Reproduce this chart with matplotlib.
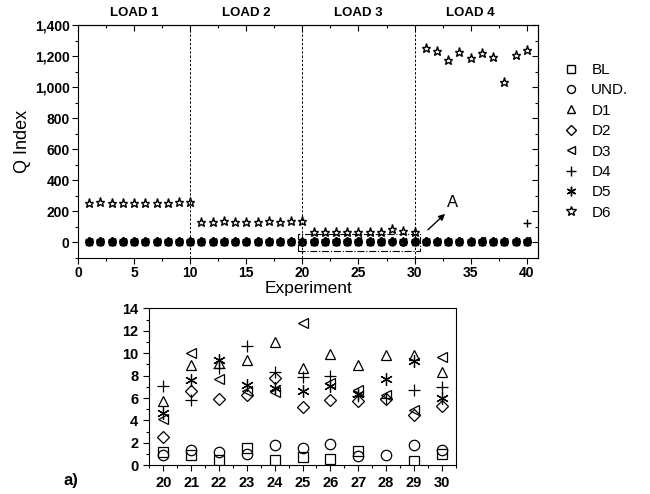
import numpy as np
import matplotlib
matplotlib.use("Agg")
import matplotlib.pyplot as plt
from matplotlib.ticker import MultipleLocator, FuncFormatter
from matplotlib.patches import Rectangle
from matplotlib.transforms import blended_transform_factory

plt.rcParams['font.family'] = ['Liberation Sans', 'DejaVu Sans']

experiment = np.arange(1, 41)

# Q index per experiment (loads of 10 experiments each)
BL = [1.1, 0.8, 1.2, 0.9, 1.0, 0.7, 1.3, 0.9, 1.1, 0.8,
      1.2, 0.6, 1.0, 1.4, 0.9, 0.7, 1.1, 0.8, 1.3, 1.2,
      0.9, 0.5, 1.5, 0.5, 0.7, 0.6, 1.3, np.nan, 0.4, 1.0,
      1.1, 0.9, 1.2, 0.8, 1.0, 1.3, 0.7, 1.1, 0.9, 1.4]
UND = [1.3, 1.5, 1.1, 1.7, 1.2, 1.4, 1.0, 1.6, 1.3, 1.5,
       1.2, 1.8, 1.4, 1.1, 1.6, 1.3, 1.5, 1.2, 1.7, 0.9,
       1.4, 1.2, 1.0, 1.8, 1.5, 1.9, 0.8, 0.9, 1.8, 1.4,
       1.6, 1.3, 1.5, 1.1, 1.7, 1.4, 1.2, 1.6, 1.3, 1.5]
D1 = [8.5, 9.2, 8.8, 9.6, 9.0, 8.7, 9.4, 9.1, 8.9, 9.3,
      9.8, 10.2, 9.5, 9.9, 10.4, 9.6, 10.1, 9.7, 10.3, 5.7,
      8.9, 9.1, 9.4, 11.0, 8.7, 9.9, 8.9, 9.8, 9.8, 8.3,
      10.5, 11.2, 10.8, 11.5, 10.9, 11.3, 10.6, 11.8, 11.1, 12.0]
D2 = [5.8, 6.2, 5.5, 6.0, 6.4, 5.7, 6.1, 5.9, 6.3, 5.6,
      6.0, 5.4, 6.2, 5.8, 6.5, 5.9, 6.1, 5.7, 6.3, 2.5,
      6.6, 5.9, 6.3, 7.8, 5.2, 5.8, 5.7, 5.9, 4.5, 5.3,
      6.8, 7.2, 6.5, 7.0, 6.9, 7.4, 6.6, 7.1, 6.7, 7.5]
D3 = [7.5, 8.1, 7.8, 8.4, 7.2, 7.9, 8.2, 7.6, 8.0, 7.4,
      8.6, 9.0, 8.3, 8.8, 9.2, 8.5, 8.9, 8.2, 9.1, 4.1,
      10.0, 7.7, 6.6, 6.5, 12.7, 7.3, 6.7, 6.3, 4.9, 9.7,
      10.2, 11.0, 9.8, 10.6, 10.4, 11.2, 9.9, 10.8, 10.5, 11.4]
D4 = [6.8, 7.3, 7.0, 7.6, 6.9, 7.4, 7.1, 7.7, 6.7, 7.2,
      7.8, 8.3, 7.5, 8.0, 8.5, 7.9, 8.2, 7.6, 8.4, 7.1,
      5.8, 8.7, 10.6, 8.3, 7.9, 8.0, 6.2, 6.0, 6.7, 7.0,
      9.5, 10.2, 9.8, 10.8, 10.1, 11.0, 9.6, 10.5, 10.3, 125.0]
D5 = [6.5, 7.0, 6.7, 7.2, 6.6, 7.1, 6.8, 7.3, 6.4, 6.9,
      7.4, 7.9, 7.1, 7.6, 8.0, 7.5, 7.8, 7.2, 8.1, 4.7,
      7.6, 9.4, 7.2, 6.9, 6.6, 7.1, 6.4, 7.7, 9.3, 6.0,
      8.8, 9.4, 9.0, 9.9, 9.2, 10.1, 8.7, 9.6, 9.3, 10.4]
D6 = [255, 257, 256, 255, 256, 255, 254, 256, 262, 257,
      133, 132, 137, 131, 133, 132, 134, 133, 135, 134,
      66, 67, 65, 68, 67, 66, 69, 84, 74, 67,
      1252, 1236, 1176, 1230, 1187, 1223, 1196, 1037, 1209, 1241]

series = [("BL", BL, "s", 4.5), ("UND.", UND, "o", 5), ("D1", D1, "^", 5),
          ("D2", D2, "D", 4), ("D3", D3, "<", 5), ("D4", D4, "+", 6),
          ("D5", D5, (6, 2, 0), 6), ("D6", D6, "*", 6.5)]

loads = ["LOAD 1", "LOAD 2", "LOAD 3", "LOAD 4"]
load_bounds = [10, 20, 30]

zoom_lo, zoom_hi = 20, 30

fig = plt.figure(figsize=(6.5, 4.94), dpi=100)
ax = fig.add_axes([0.12, 0.4783, 0.7077, 0.4705])

for name, vals, mk, ms in series:
    ax.plot(experiment, vals, linestyle="none", marker=mk, markersize=ms,
            markerfacecolor="none", markeredgecolor="black",
            markeredgewidth=1.0, color="black", label=name)

for b in load_bounds:
    ax.axvline(b, color="black", linestyle=(0, (2.5, 1.8)), linewidth=0.7)

trans = blended_transform_factory(ax.transData, ax.transAxes)
for i, lbl in enumerate(loads):
    ax.text(5 + 10 * i, 1.052, lbl, transform=trans, ha="center",
            va="center", fontsize=9.5, fontweight="bold")

# dash-dot box marking the zoomed region
ax.add_patch(Rectangle((19.6, -58), 10.9, 113, fill=False,
                       linestyle="-.", linewidth=0.8, edgecolor="black"))
ax.annotate("", xy=(32.9, 195), xytext=(31.0, 68),
            arrowprops=dict(arrowstyle="-|>", color="black", lw=1,
                            mutation_scale=9))
ax.text(33.4, 255, "A", ha="center", va="center", fontsize=12)

ax.set_xlim(0, 41)
ax.set_ylim(-100, 1400)
ax.xaxis.set_major_locator(MultipleLocator(5))
ax.xaxis.set_minor_locator(MultipleLocator(2.5))
ax.yaxis.set_major_locator(MultipleLocator(200))
ax.yaxis.set_minor_locator(MultipleLocator(100))
ax.yaxis.set_major_formatter(FuncFormatter(lambda v, p: f"{v:,.0f}"))
ax.tick_params(which="major", direction="out", length=4, width=0.8,
               labelsize=10, pad=2)
ax.tick_params(which="minor", direction="out", length=2.5, width=0.8)
for lab in ax.get_xticklabels() + ax.get_yticklabels():
    lab.set_fontweight("bold")
ax.set_xlabel("Experiment", fontsize=12.5, labelpad=1)
ax.set_ylabel("Q Index", fontsize=13, labelpad=3)

# inward ticks on top and right
top = ax.secondary_xaxis("top")
top.xaxis.set_major_locator(MultipleLocator(5))
top.xaxis.set_minor_locator(MultipleLocator(2.5))
top.tick_params(which="major", direction="in", length=4, width=0.8,
                labeltop=False)
top.tick_params(which="minor", direction="in", length=2.5, width=0.8)
right = ax.secondary_yaxis("right")
right.yaxis.set_major_locator(MultipleLocator(200))
right.yaxis.set_minor_locator(MultipleLocator(100))
right.tick_params(which="major", direction="in", length=4, width=0.8,
                  labelright=False)
right.tick_params(which="minor", direction="in", length=2.5, width=0.8)

fig.legend(loc="upper left", bbox_to_anchor=(0.858, 0.885), frameon=False,
           fontsize=11, handlelength=0.9, handletextpad=0.9,
           labelspacing=0.42, borderaxespad=0, markerscale=1.15)

# zoomed view of experiments 20-30
ins = fig.add_axes([0.2297, 0.0581, 0.4714, 0.3178])
sel = slice(zoom_lo - 1, zoom_hi)
for name, vals, mk, ms in series:
    if name == "D6":
        continue
    ins.plot(experiment[sel], np.asarray(vals, dtype=float)[sel],
             linestyle="none", marker=mk, markersize=ms * 1.5,
             markerfacecolor="none", markeredgecolor="black",
             markeredgewidth=0.9)
ins.set_xlim(zoom_lo - 0.5, zoom_hi + 0.5)
ins.set_ylim(0, 14)
ins.xaxis.set_major_locator(MultipleLocator(1))
ins.xaxis.set_minor_locator(MultipleLocator(0.5))
ins.yaxis.set_major_locator(MultipleLocator(2))
ins.yaxis.set_minor_locator(MultipleLocator(1))
ins.tick_params(which="major", direction="out", length=4, width=0.8,
                labelsize=10.5, pad=4)
ins.tick_params(which="minor", direction="out", length=2.5, width=0.8)
for lab in ins.get_xticklabels() + ins.get_yticklabels():
    lab.set_fontweight("bold")
fig.text(0.109, 0.027, "a)", fontsize=12, fontweight="bold",
         ha="center", va="center")

fig.savefig("out.png", dpi=100)
